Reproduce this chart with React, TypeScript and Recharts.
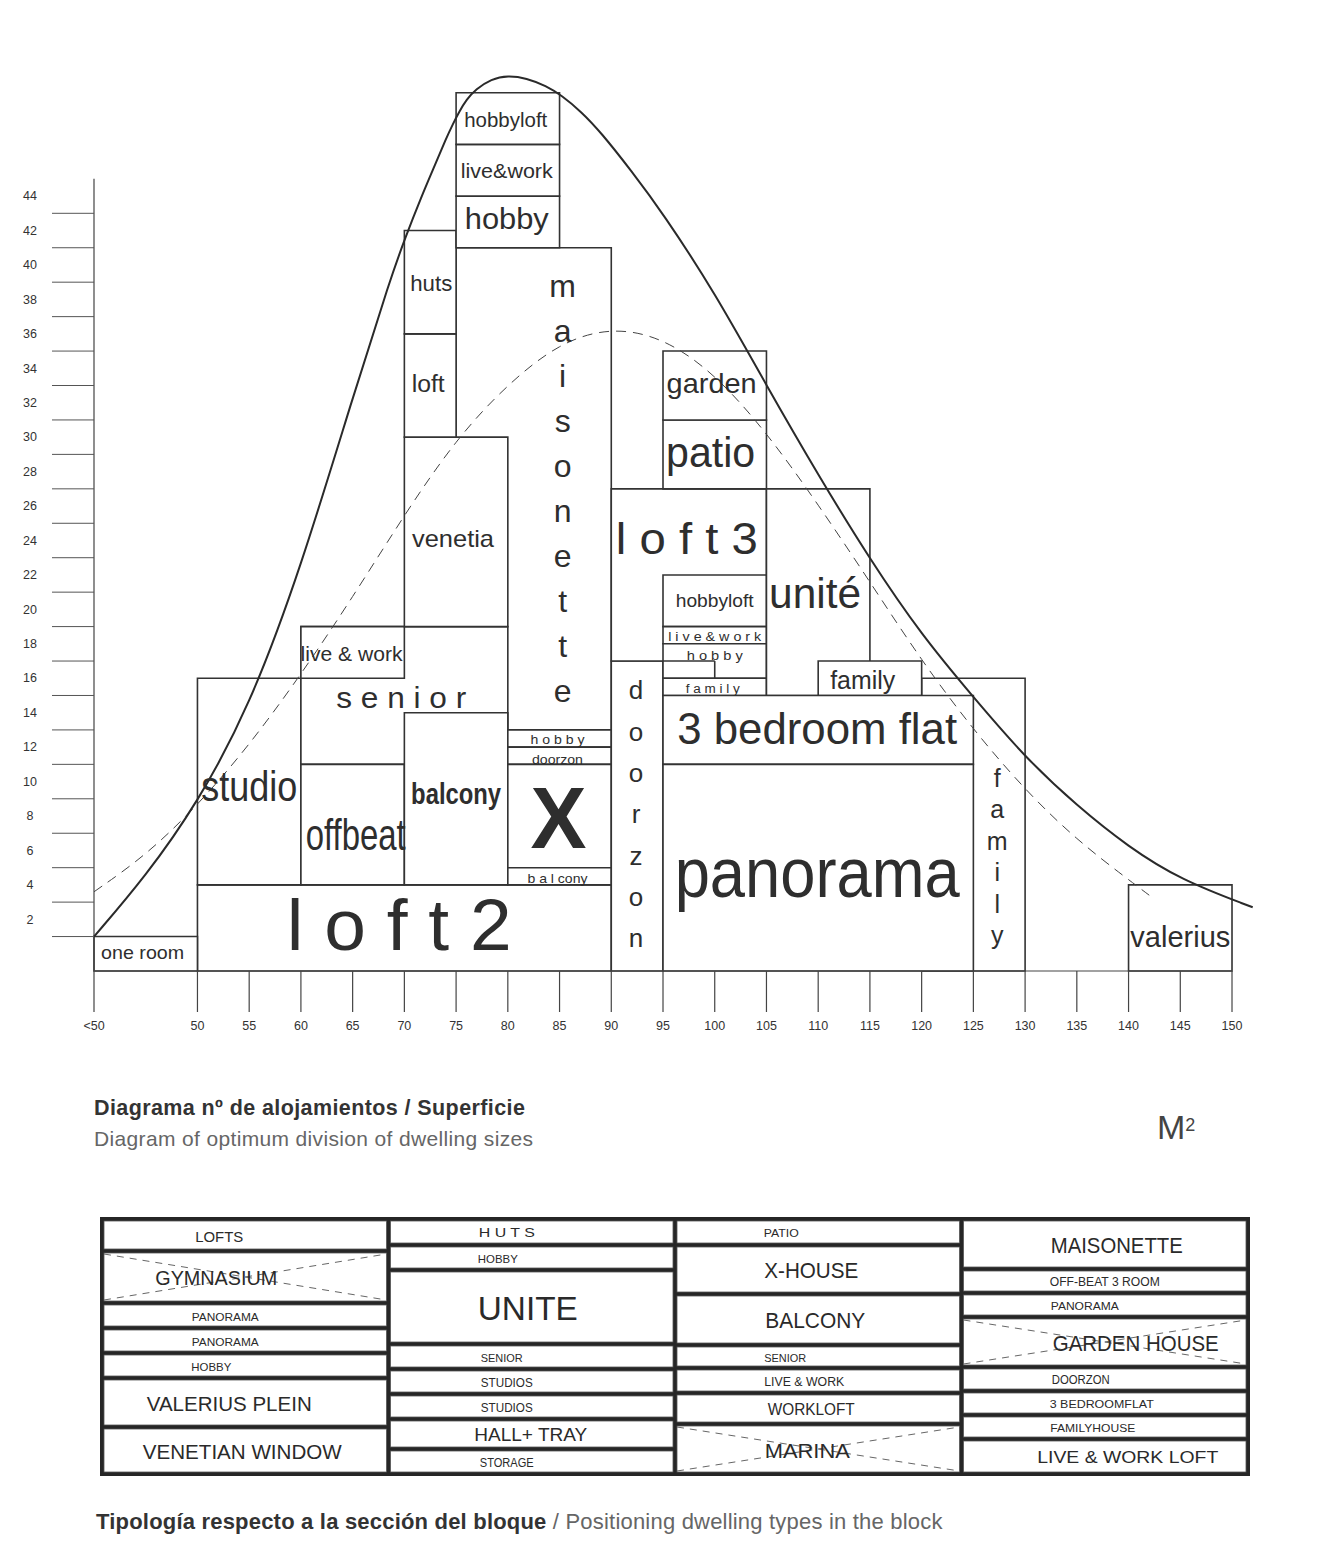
import React from 'react';
import { ComposedChart, Line, XAxis, YAxis, ReferenceArea, ReferenceLine, ReferenceDot } from 'recharts';

const FONT = '"Liberation Sans", Arimo, Arial, sans-serif';
const INK = '#2e2e2e';
const EDGE = '#333';

// ---------- axis data ----------
const xTicks = [40, 50, 55, 60, 65, 70, 75, 80, 85, 90, 95, 100, 105, 110, 115, 120, 125, 130, 135, 140, 145, 150];
const xTickLabels = ['<50', '50', '55', '60', '65', '70', '75', '80', '85', '90', '95', '100', '105', '110', '115', '120', '125', '130', '135', '140', '145', '150'];
const yTicks = [2, 4, 6, 8, 10, 12, 14, 16, 18, 20, 22, 24, 26, 28, 30, 32, 34, 36, 38, 40, 42, 44];

// ---------- curves ----------
const solidCurve = [
  { x: 40, y: 2.0 }, { x: 45, y: 5.5 }, { x: 50, y: 9.75 }, { x: 55, y: 15.3 }, { x: 60, y: 23.4 },
  { x: 65, y: 33.3 }, { x: 68.7, y: 40.3 }, { x: 70.1, y: 42.6 }, { x: 71.6, y: 44.9 }, { x: 73.1, y: 47.0 },
  { x: 74.0, y: 48.3 }, { x: 74.7, y: 49.2 }, { x: 75.3, y: 49.9 }, { x: 76.0, y: 50.6 }, { x: 76.9, y: 51.2 },
  { x: 78.4, y: 51.8 }, { x: 80, y: 52.0 }, { x: 81.8, y: 51.85 }, { x: 83.7, y: 51.4 }, { x: 85.2, y: 50.85 },
  { x: 87.1, y: 49.9 }, { x: 89, y: 48.7 }, { x: 91.9, y: 46.5 }, { x: 95, y: 44.0 }, { x: 100, y: 39.4 },
  { x: 105, y: 34.0 }, { x: 110, y: 28.8 }, { x: 115, y: 23.9 }, { x: 120, y: 19.5 }, { x: 125, y: 15.9 },
  { x: 130, y: 12.4 }, { x: 135, y: 9.6 }, { x: 140, y: 7.2 }, { x: 145, y: 5.3 }, { x: 152, y: 3.7 },
];
const dashedCurve = [
  { x: 40, y: 4.6 }, { x: 45, y: 6.7 }, { x: 50, y: 9.6 }, { x: 55, y: 13.1 }, { x: 60, y: 17.2 },
  { x: 65, y: 21.7 }, { x: 70, y: 26.5 }, { x: 75, y: 30.9 }, { x: 80, y: 34.1 }, { x: 85, y: 36.5 },
  { x: 90, y: 37.4 }, { x: 95, y: 36.8 }, { x: 100, y: 34.7 }, { x: 105, y: 31.3 }, { x: 110, y: 27.1 },
  { x: 115, y: 22.6 }, { x: 120, y: 18.0 }, { x: 125, y: 14.0 }, { x: 130, y: 10.5 }, { x: 135, y: 7.6 },
  { x: 140, y: 5.3 }, { x: 142, y: 4.4 },
];

// ---------- dwelling boxes: size range (m2) x count range, painted in order ----------
const boxes = [
  { id: 'loft2', x0: 50, x1: 90, y0: 0, y1: 5 },
  { id: 'oneroom', x0: 40, x1: 50, y0: 0, y1: 2 },
  { id: 'studio', x0: 50, x1: 60, y0: 5, y1: 17 },
  { id: 'maisonette', x0: 75, x1: 90, y0: 14, y1: 42 },
  { id: 'senior', x0: 60, x1: 80, y0: 12, y1: 20 },
  { id: 'livework1', x0: 60, x1: 70, y0: 17, y1: 20 },
  { id: 'offbeat', x0: 60, x1: 70, y0: 5, y1: 12 },
  { id: 'balcony', x0: 70, x1: 80, y0: 5, y1: 15 },
  { id: 'venetia', x0: 70, x1: 80, y0: 20, y1: 31 },
  { id: 'loft', x0: 70, x1: 75, y0: 31, y1: 37 },
  { id: 'huts', x0: 70, x1: 75, y0: 37, y1: 43 },
  { id: 'hobbyTop', x0: 75, x1: 85, y0: 42, y1: 45 },
  { id: 'liveworkTop', x0: 75, x1: 85, y0: 45, y1: 48 },
  { id: 'hobbyloftTop', x0: 75, x1: 85, y0: 48, y1: 51 },
  { id: 'hobbyX', x0: 80, x1: 90, y0: 13, y1: 14 },
  { id: 'doorzonX', x0: 80, x1: 90, y0: 12, y1: 13 },
  { id: 'X', x0: 80, x1: 90, y0: 6, y1: 12 },
  { id: 'balconyX', x0: 80, x1: 90, y0: 5, y1: 6 },
  { id: 'doorzon', x0: 90, x1: 95, y0: 0, y1: 18 },
  { id: 'loft3', x0: 90, x1: 105, y0: 18, y1: 28 },
  { id: 'hobbyloft', x0: 95, x1: 105, y0: 20, y1: 23 },
  { id: 'livework2', x0: 95, x1: 105, y0: 19, y1: 20 },
  { id: 'hobby2', x0: 95, x1: 105, y0: 17, y1: 19 },
  { id: 'family2', x0: 95, x1: 105, y0: 16, y1: 17 },
  { id: 'patio', x0: 95, x1: 105, y0: 28, y1: 32 },
  { id: 'garden', x0: 95, x1: 105, y0: 32, y1: 36 },
  { id: 'unite', x0: 105, x1: 115, y0: 16, y1: 28 },
  { id: 'familyV', x0: 120, x1: 130, y0: 0, y1: 17 },
  { id: 'family', x0: 110, x1: 120, y0: 16, y1: 18 },
  { id: 'bed3', x0: 95, x1: 125, y0: 12, y1: 16 },
  { id: 'panorama', x0: 95, x1: 125, y0: 0, y1: 12 },
  { id: 'valerius', x0: 140, x1: 150, y0: 0, y1: 5 },
];

const extraEdges = [
  [{ x: 95, y: 18 }, { x: 100, y: 18 }],
  [{ x: 100, y: 18 }, { x: 100, y: 17 }],
];

// ---------- box labels ----------
const boxLabels = [
  { t: 'hobbyloft', x: 79.8, y: 49.4 },
  { t: 'live&work', x: 79.9, y: 46.5 },
  { t: 'hobby', x: 79.9, y: 43.7 },
  { t: 'huts', x: 72.6, y: 39.9 },
  { t: 'loft', x: 72.3, y: 34.1 },
  { t: 'maisonette', x: 85.3, y: 28.0 },
  { t: 'venetia', x: 74.7, y: 25.1 },
  { t: 'live & work', x: 64.9, y: 18.4 },
  { t: 's e n i o r', x: 69.7, y: 15.9 },
  { t: 'studio', x: 55.0, y: 10.7 },
  { t: 'offbeat', x: 65.3, y: 7.9 },
  { t: 'balcony', x: 75.0, y: 10.3 },
  { t: 'X', x: 84.9, y: 8.9 },
  { t: 'h o b b y', x: 84.8, y: 13.4 },
  { t: 'doorzon', x: 84.8, y: 12.3 },
  { t: 'b a l cony', x: 84.8, y: 5.4 },
  { t: 'l o f t 2', x: 69.5, y: 2.7 },
  { t: 'one room', x: 44.7, y: 1.1 },
  { t: 'doorzon', x: 92.4, y: 9.1 },
  { t: 'l o f t 3', x: 97.3, y: 25.1 },
  { t: 'garden', x: 99.7, y: 34.1 },
  { t: 'patio', x: 99.6, y: 30.1 },
  { t: 'hobbyloft', x: 100.0, y: 21.5 },
  { t: 'l i v e & w o r k', x: 100.0, y: 19.4 },
  { t: 'h o b b y', x: 100.0, y: 18.3 },
  { t: 'f a m i l y', x: 99.8, y: 16.4 },
  { t: 'unité', x: 109.7, y: 21.9 },
  { t: 'family', x: 114.3, y: 16.9 },
  { t: '3 bedroom flat', x: 109.9, y: 14.1 },
  { t: 'panorama', x: 109.9, y: 5.7 },
  { t: 'family', x: 127.3, y: 6.65 },
  { t: 'valerius', x: 145.0, y: 2.0 },
];
// style per label (same order): font size, text width px, bold, vertical letter step px
const labelStyles = [
  { s: 20, w: 83 }, { s: 21, w: 92 }, { s: 30, w: 84 }, { s: 22, w: 42 }, { s: 23, w: 33 },
  { s: 32, v: 45 }, { s: 24, w: 82 }, { s: 20, w: 102 }, { s: 30, w: 130 }, { s: 42, w: 96 },
  { s: 44, w: 100 }, { s: 30, w: 90, b: true }, { s: 88, w: 56, b: true }, { s: 12, w: 54 }, { s: 13, w: 51 },
  { s: 13, w: 60 }, { s: 72, w: 225 }, { s: 19, w: 83 }, { s: 26, v: 41.3 }, { s: 44, w: 142 },
  { s: 28, w: 90 }, { s: 42, w: 89 }, { s: 19, w: 78 }, { s: 12, w: 93 }, { s: 13, w: 56 },
  { s: 12, w: 54 }, { s: 42, w: 92 }, { s: 26, w: 65 }, { s: 44, w: 280 }, { s: 70, w: 285 },
  { s: 25, v: 31.4 }, { s: 30, w: 100 },
];

// ---------- table of dwelling positions in the block ----------
const tableColumns = [
  ['LOFTS', 'GYMNASIUM', 'PANORAMA', 'PANORAMA', 'HOBBY', 'VALERIUS PLEIN', 'VENETIAN WINDOW'],
  ['H U T S', 'HOBBY', 'UNITE', 'SENIOR', 'STUDIOS', 'STUDIOS', 'HALL+ TRAY', 'STORAGE'],
  ['PATIO', 'X-HOUSE', 'BALCONY', 'SENIOR', 'LIVE & WORK', 'WORKLOFT', 'MARINA'],
  ['MAISONETTE', 'OFF-BEAT 3 ROOM', 'PANORAMA', 'GARDEN HOUSE', 'DOORZON', '3 BEDROOMFLAT', 'FAMILYHOUSE', 'LIVE & WORK LOFT'],
];
const tableLayout = [
  [
    { h: 28, dx: -26, s: 15, w: 48 }, { h: 48, dx: -29, s: 20, w: 122, dash: true }, { h: 21, dx: -20, s: 11, w: 67 },
    { h: 21, dx: -20, s: 11, w: 67 }, { h: 21, dx: -34, s: 11, w: 40 }, { h: 45, dx: -16, s: 20, w: 165 },
    { h: 43, dx: -3, s: 20, w: 199 },
  ],
  [
    { h: 22, dx: -25, s: 12, w: 56 }, { h: 21, dx: -34, s: 11, w: 40 }, { h: 70, dx: -4, s: 34, w: 100 },
    { h: 21, dx: -30, s: 11, w: 42 }, { h: 21, dx: -25, s: 12, w: 52 }, { h: 21, dx: -25, s: 12, w: 52 },
    { h: 26, dx: -1, s: 18, w: 113 }, { h: 21, dx: -25, s: 12, w: 54 },
  ],
  [
    { h: 22, dx: -37, s: 11, w: 35 }, { h: 45, dx: -7, s: 22, w: 94 }, { h: 47, dx: -3, s: 22, w: 100 },
    { h: 19, dx: -33, s: 11, w: 42 }, { h: 21, dx: -14, s: 12, w: 80 }, { h: 27, dx: -7, s: 17, w: 87 },
    { h: 46, dx: -11, s: 21, w: 85, dash: true },
  ],
  [
    { h: 46, dx: 12, s: 22, w: 132 }, { h: 20, dx: 0, s: 12, w: 110 }, { h: 20, dx: -20, s: 11, w: 68 },
    { h: 46, dx: 31, s: 22, w: 166, dash: true }, { h: 20, dx: -24, s: 12, w: 58 }, { h: 20, dx: -3, s: 11, w: 104 },
    { h: 20, dx: -12, s: 11, w: 85 }, { h: 31, dx: 23, s: 17, w: 181 },
  ],
];

// ---------- renderers ----------
const YTick = (props: any) => {
  const { x, y, payload } = props;
  return (
    <g>
      <line x1={x - 42} x2={x} y1={y} y2={y} stroke="#555" strokeWidth={1} />
      <text x={x - 64} y={y - 17} textAnchor="middle" dominantBaseline="central" fontSize={12.5} fill="#333" fontFamily={FONT}>
        {payload.value}
      </text>
    </g>
  );
};

const XTick = (props: any) => {
  const { x, y, payload } = props;
  const idx = xTicks.indexOf(payload.value);
  return (
    <g>
      <line x1={x} x2={x} y1={y} y2={y + 41} stroke="#444" strokeWidth={1.2} />
      <text x={x} y={y + 55} textAnchor="middle" dominantBaseline="central" fontSize={12.5} fill="#333" fontFamily={FONT}>
        {idx >= 0 ? xTickLabels[idx] : payload.value}
      </text>
    </g>
  );
};

const makeLabelShape = (text: string, st: any) => (props: any) => {
  const { cx, cy } = props;
  if (st.v) {
    const letters = text.split('');
    return (
      <g>
        {letters.map((ch, i) => (
          <text key={i} x={cx} y={cy + (i - (letters.length - 1) / 2) * st.v} textAnchor="middle" dominantBaseline="central"
            fontSize={st.s} fill={INK} fontFamily={FONT}>{ch}</text>
        ))}
      </g>
    );
  }
  return (
    <text x={cx} y={cy} textAnchor="middle" dominantBaseline="central" fontSize={st.s} fontWeight={st.b ? 700 : 400}
      fill={INK} fontFamily={FONT} textLength={st.w} lengthAdjust="spacingAndGlyphs">{text}</text>
  );
};

const BlockTable = () => {
  const W = 1150, H = 259, pad = 4, gap = 4;
  const cw = (W - 2 * pad - 3 * gap) / 4;
  const items: any[] = [];
  tableColumns.forEach((col, ci) => {
    const cx0 = pad + ci * (cw + gap);
    let yy = pad;
    col.forEach((label, ri) => {
      const L = tableLayout[ci][ri];
      items.push(
        <g key={`${ci}-${ri}`}>
          <rect x={cx0} y={yy} width={cw} height={L.h} fill="#fff" stroke="#555" strokeWidth={0.8} />
          {L.dash && (
            <g stroke="#666" strokeWidth={1} strokeDasharray="7 6">
              <line x1={cx0} y1={yy + 1} x2={cx0 + cw} y2={yy + L.h - 1} />
              <line x1={cx0} y1={yy + L.h - 1} x2={cx0 + cw} y2={yy + 1} />
            </g>
          )}
          <text x={cx0 + cw / 2 + L.dx} y={yy + L.h / 2 + 1} textAnchor="middle" dominantBaseline="central"
            fontSize={L.s} fill="#2a2a2a" fontFamily={FONT} textLength={L.w} lengthAdjust="spacingAndGlyphs">{label}</text>
        </g>
      );
      yy += L.h + gap;
    });
  });
  return (
    <svg width={W} height={H} style={{ position: 'absolute', left: 92, top: 1209 }}>
      <rect x={0} y={0} width={W} height={H} fill="#262626" />
      {items}
    </svg>
  );
};

export default function App() {
  return (
    <div style={{ position: 'relative', width: 1307, height: 1544, background: '#fff', fontFamily: FONT }}>
      <div style={{ position: 'absolute', left: 0, top: 0 }}>
        <ComposedChart width={1307} height={1033} margin={{ top: 33.1, right: 62.3, bottom: 0, left: 26 }}>
          <XAxis dataKey="x" type="number" domain={[40, 152]} ticks={xTicks} interval={0} axisLine={false}
            tickLine={false} tickSize={0} tickMargin={0} height={70} tick={(p: any) => <XTick {...p} />} />
          <YAxis type="number" domain={[0, 54]} ticks={yTicks} interval={0} axisLine={false} tickLine={false}
            tickSize={0} tickMargin={0} width={60} tick={(p: any) => <YTick {...p} />} />
          {boxes.map((b) => (
            <ReferenceArea key={b.id} x1={b.x0} x2={b.x1} y1={b.y0} y2={b.y1} fill="#fff" fillOpacity={1}
              stroke={EDGE} strokeWidth={1.6} ifOverflow="visible" />
          ))}
          {extraEdges.map((seg, i) => (
            <ReferenceLine key={`e${i}`} segment={seg} stroke={EDGE} strokeWidth={1.6} ifOverflow="visible" />
          ))}
          <ReferenceLine segment={[{ x: 40, y: 0 }, { x: 150, y: 0 }]} stroke="#444" strokeWidth={1.2} ifOverflow="visible" />
          <ReferenceLine segment={[{ x: 40, y: 0 }, { x: 40, y: 46 }]} stroke="#444" strokeWidth={1.2} ifOverflow="visible" />
          <Line data={dashedCurve} dataKey="y" type="basis" stroke="#444" strokeWidth={1} strokeDasharray="10 7"
            dot={false} activeDot={false} isAnimationActive={false} />
          <Line data={solidCurve} dataKey="y" type="basis" stroke="#2a2a2a" strokeWidth={2} dot={false}
            activeDot={false} isAnimationActive={false} />
          {boxLabels.map((l, i) => (
            <ReferenceDot key={`l${i}`} x={l.x} y={l.y} r={0} ifOverflow="visible"
              shape={makeLabelShape(l.t, labelStyles[i])} />
          ))}
        </ComposedChart>
      </div>

      <div style={{ position: 'absolute', left: 86, top: 1088, fontSize: 21.5, letterSpacing: 0.4, lineHeight: '24px', fontWeight: 700, color: '#333', whiteSpace: 'nowrap' }}>
        Diagrama nº de alojamientos / Superficie
      </div>
      <div style={{ position: 'absolute', left: 86, top: 1119, fontSize: 21, letterSpacing: 0.35, lineHeight: '24px', color: '#666', whiteSpace: 'nowrap' }}>
        Diagram of optimum division of dwelling sizes
      </div>
      <div style={{ position: 'absolute', left: 1149, top: 1101, fontSize: 34, lineHeight: '36px', color: '#444', whiteSpace: 'nowrap' }}>
        M<sup style={{ fontSize: 18, verticalAlign: 'top', position: 'relative', top: -2 }}>2</sup>
      </div>

      <BlockTable />

      <div style={{ position: 'absolute', left: 88, top: 1502, fontSize: 22, letterSpacing: 0.2, lineHeight: '24px', color: '#333', whiteSpace: 'nowrap' }}>
        <span style={{ fontWeight: 700 }}>Tipología respecto a la sección del bloque</span>
        <span style={{ color: '#666' }}> / Positioning dwelling types in the block</span>
      </div>
    </div>
  );
}
